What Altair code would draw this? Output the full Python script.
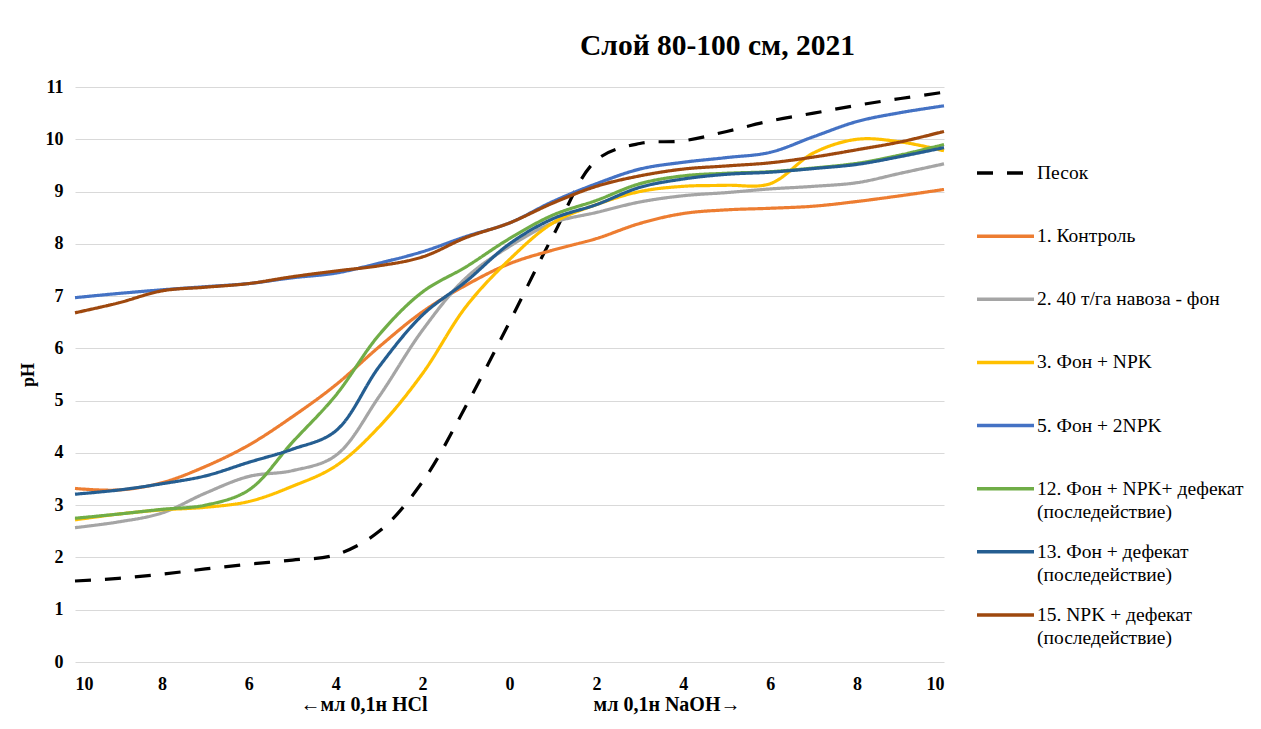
import altair as alt
import pandas as pd

# ---- data ----
ml = list(range(-10, 11))  # negative = ml 0.1n HCl, positive = ml 0.1n NaOH

series_names = [
    "Песок",
    "1. Контроль",
    "2. 40 т/га навоза - фон",
    "3. Фон + NPK",
    "5. Фон + 2NPK",
    "12. Фон + NPK+ дефекат|(последействие)",
    "13. Фон + дефекат|(последействие)",
    "15. NPK + дефекат|(последействие)",
]

sand = [1.55, 1.60, 1.68, 1.78, 1.87, 1.95, 2.05, 2.50, 3.45, 4.90, 6.50,
        8.15, 9.60, 9.92, 9.97, 10.15, 10.35, 10.50, 10.65, 10.78, 10.90]
control = [3.32, 3.29, 3.43, 3.74, 4.15, 4.69, 5.30, 6.03, 6.70, 7.21, 7.62,
           7.88, 8.10, 8.39, 8.58, 8.65, 8.68, 8.72, 8.81, 8.92, 9.04]
manure = [2.57, 2.68, 2.85, 3.23, 3.55, 3.66, 3.95, 5.08, 6.35, 7.35, 7.95,
          8.40, 8.60, 8.80, 8.92, 8.98, 9.05, 9.10, 9.17, 9.35, 9.53]
fon_npk = [2.72, 2.83, 2.91, 2.96, 3.07, 3.36, 3.75, 4.50, 5.52, 6.80, 7.70,
           8.40, 8.75, 9.00, 9.10, 9.12, 9.15, 9.74, 10.00, 9.95, 9.78]
fon_2npk = [6.97, 7.05, 7.12, 7.18, 7.24, 7.35, 7.44, 7.63, 7.85, 8.14, 8.40,
            8.81, 9.15, 9.43, 9.56, 9.65, 9.75, 10.05, 10.34, 10.51, 10.64]
npk_def = [2.75, 2.83, 2.92, 3.00, 3.29, 4.20, 5.10, 6.26, 7.08, 7.56, 8.10,
           8.55, 8.83, 9.15, 9.30, 9.35, 9.38, 9.45, 9.54, 9.70, 9.90]
fon_def = [3.21, 3.29, 3.41, 3.56, 3.82, 4.07, 4.42, 5.65, 6.64, 7.28, 8.00,
           8.48, 8.75, 9.08, 9.24, 9.33, 9.37, 9.44, 9.52, 9.67, 9.84]
npk15_def = [6.68, 6.87, 7.10, 7.17, 7.24, 7.37, 7.48, 7.58, 7.75, 8.12, 8.40,
             8.78, 9.10, 9.30, 9.43, 9.49, 9.55, 9.66, 9.80, 9.95, 10.15]

all_values = [sand, control, manure, fon_npk, fon_2npk, npk_def, fon_def, npk15_def]
colors = ["#000000", "#ED7D31", "#A5A5A5", "#FFC000", "#4472C4", "#70AD47", "#255E91", "#9E480E"]
dashes = [[16, 14]] + [[1, 0]] * 7

x_ticks = [-10, -8, -6, -4, -2, 0, 2, 4, 6, 8, 10]
y_ticks = list(range(0, 12))

rows = []
for order, (name, vals) in enumerate(zip(series_names, all_values)):
    for xv, yv in zip(ml, vals):
        rows.append({"series": name, "order": order, "x": xv, "ph": yv})
df = pd.DataFrame(rows)
legend_df = pd.DataFrame({"series": series_names})

SERIF = "Liberation Serif, Times New Roman, serif"

color_enc = alt.Color("series:N", scale=alt.Scale(domain=series_names, range=colors), legend=None)
dash_enc = alt.StrokeDash("series:N", scale=alt.Scale(domain=series_names, range=dashes), legend=None)

lines = alt.Chart(df).mark_line(strokeWidth=3.2, interpolate="catmull-rom").encode(
    x=alt.X("x:Q",
            scale=alt.Scale(domain=[-10, 10], nice=False, zero=False),
            axis=alt.Axis(values=x_ticks, labelExpr="abs(datum.value)", grid=False,
                          domain=False, ticks=False, title=None,
                          labelFont=SERIF, labelFontWeight="bold", labelFontSize=18,
                          labelColor="#000000", labelPadding=13)),
    y=alt.Y("ph:Q",
            scale=alt.Scale(domain=[0, 11], nice=False),
            axis=alt.Axis(values=y_ticks, grid=True, gridColor="#d9d9d9", gridWidth=1,
                          domain=False, ticks=False, title="pH",
                          titleFont=SERIF, titleFontWeight="bold", titleFontSize=18,
                          titleColor="#000000", titlePadding=8,
                          labelFont=SERIF, labelFontWeight="bold", labelFontSize=18,
                          labelColor="#000000", labelPadding=12)),
    color=color_enc,
    strokeDash=dash_enc,
    order=alt.Order("order:Q"),
)

# legend drawn as marks (rows placed by a point scale over the series names)
legend_y = alt.Y("series:N", sort=series_names,
                 scale=alt.Scale(type="point", domain=series_names, range=[86, 528], padding=0),
                 axis=None)

legend_lines = alt.Chart(legend_df).mark_rule(strokeWidth=3.5).encode(
    x=alt.value(902), x2=alt.value(959), y=legend_y, color=color_enc, strokeDash=dash_enc,
)

legend_text = alt.Chart(legend_df).mark_text(
    font=SERIF, fontSize=19.5, color="#000000", align="left", baseline="middle",
    lineBreak="|", lineHeight=23,
).encode(x=alt.value(962), y=legend_y, text="series:N")

hcl_title = alt.Chart(alt.Data(values=[{}])).mark_text(
    font=SERIF, fontWeight="bold", fontSize=20, color="#000000", align="center", baseline="middle"
).encode(x=alt.value(289), y=alt.value(618), text=alt.value("←мл 0,1н HCl"))

naoh_title = alt.Chart(alt.Data(values=[{}])).mark_text(
    font=SERIF, fontWeight="bold", fontSize=20, color="#000000", align="center", baseline="middle"
).encode(x=alt.value(592), y=alt.value(618), text=alt.value("мл 0,1н NaOH→"))

chart = alt.layer(lines, legend_lines, legend_text, hcl_title, naoh_title).resolve_scale(
    y="independent"
).properties(
    width=869,
    height=575,
    autosize=alt.AutoSizeParams(type="none"),
    padding={"left": 67, "top": 79, "right": 300, "bottom": 55},
    title=alt.TitleParams("Слой 80-100 см, 2021", font=SERIF, fontSize=29.5, fontWeight="bold",
                          color="#000000", anchor="middle", dx=208, offset=17),
).configure_view(stroke=None)

chart.save("out.html", embed_options={"renderer": "svg", "actions": False})
